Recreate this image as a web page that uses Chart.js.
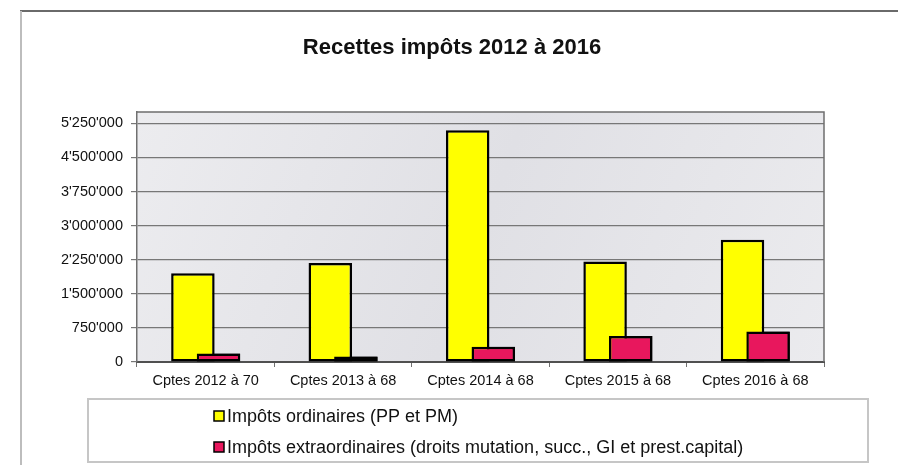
<!DOCTYPE html>
<html><head><meta charset="utf-8">
<script src="https://cdn.jsdelivr.net/npm/chart.js@4.4.0/dist/chart.umd.min.js"></script>
<style>html,body{margin:0;padding:0;background:#fff;overflow:hidden}</style>
</head><body>
<canvas id="c" width="898" height="465"></canvas>
<script>
const titleText = 'Recettes impôts 2012 à 2016';
const categories = ['Cptes 2012 à 70', 'Cptes 2013 à 68', 'Cptes 2014 à 68', 'Cptes 2015 à 68', 'Cptes 2016 à 68'];
const seriesNames = ['Impôts ordinaires (PP et PM)', 'Impôts extraordinaires (droits mutation, succ., GI et prest.capital)'];
const ordinaires = [1950000, 2180000, 5100000, 2210000, 2690000];
const extraordinaires = [185000, 120000, 335000, 570000, 670000];
const yTickValues = [0, 750000, 1500000, 2250000, 3000000, 3750000, 4500000, 5250000];
const yMax = 5500000;

const FONT = '"Liberation Sans", Arial, sans-serif';
const fmt = v => String(v).replace(/\B(?=(\d{3})+(?!\d))/g, "'");

const decor = {
  id: 'decor',
  beforeDraw(chart) {
    const {ctx, chartArea: a} = chart;
    ctx.save();
    const g = ctx.createLinearGradient(a.left, a.top, a.right, a.bottom);
    g.addColorStop(0, '#ececef');
    g.addColorStop(0.5, '#e0e0e5');
    g.addColorStop(1, '#ebebee');
    ctx.fillStyle = g;
    ctx.fillRect(a.left, a.top, a.right - a.left, a.bottom - a.top);
    ctx.restore();
  },
  afterDatasetsDraw(chart) {
    const meta = chart.getDatasetMeta(1);
    if (meta && !meta.hidden) meta.controller.draw();
  },
  afterDraw(chart) {
    const {ctx, chartArea: a} = chart;
    ctx.save();
    // plot border
    ctx.strokeStyle = '#6e6e6e';
    ctx.lineWidth = 1.5;
    ctx.beginPath();
    ctx.moveTo(a.left, a.top); ctx.lineTo(a.right, a.top); ctx.lineTo(a.right, a.bottom);
    ctx.stroke();
    // outer frame
    ctx.strokeStyle = '#6a6a6a';
    ctx.lineWidth = 2;
    ctx.beginPath(); ctx.moveTo(20, 11); ctx.lineTo(898, 11); ctx.stroke();
    ctx.strokeStyle = '#bdbdbd';
    ctx.beginPath(); ctx.moveTo(21, 11); ctx.lineTo(21, 465); ctx.stroke();
    // title
    ctx.fillStyle = '#111';
    ctx.font = 'bold 22px ' + FONT;
    ctx.textAlign = 'center';
    ctx.textBaseline = 'middle';
    ctx.fillText(titleText, 452, 48);
    // legend
    ctx.strokeStyle = '#c6c6c6';
    ctx.lineWidth = 2;
    ctx.strokeRect(88, 399, 780, 63);
    ctx.font = '18px ' + FONT;
    ctx.textAlign = 'left';
    const rows = [416, 447];
    chart.data.datasets.forEach((ds, i) => {
      const y = rows[i];
      ctx.fillStyle = ds.backgroundColor;
      ctx.fillRect(214, y - 5, 10, 10);
      ctx.strokeStyle = '#000';
      ctx.lineWidth = 1.5;
      ctx.strokeRect(214, y - 5, 10, 10);
      ctx.fillStyle = '#111';
      ctx.fillText(ds.label, 227, y + 1);
    });
    ctx.restore();
  }
};

new Chart(document.getElementById('c'), {
  type: 'bar',
  data: {
    labels: categories,
    datasets: [
      { label: seriesNames[0], data: ordinaires, backgroundColor: '#FFFF00', borderColor: '#000', borderWidth: 2.5, borderSkipped: false,
        categoryPercentage: 0.3726, barPercentage: 1.70 },
      { label: seriesNames[1], data: extraordinaires, backgroundColor: '#E8175D', borderColor: '#000', borderWidth: 2.5, borderSkipped: false,
        categoryPercentage: 0.3726, barPercentage: 1.70 }
    ]
  },
  options: {
    responsive: false,
    animation: false,
    devicePixelRatio: 1,
    layout: { padding: { top: 112, right: 74, left: 0, bottom: 0 } },
    plugins: { legend: { display: false }, title: { display: false }, tooltip: { enabled: false } },
    scales: {
      x: {
        afterFit(s) { s.height = 103; },
        grid: { display: true, drawOnChartArea: false, drawTicks: true, tickLength: 5, color: '#707070', offset: true },
        border: { display: true, color: '#505050', width: 2 },
        ticks: { color: '#111', font: { family: FONT, size: 14.5 }, padding: 5, maxRotation: 0, autoSkip: false }
      },
      y: {
        min: 0, max: yMax,
        afterFit(s) { s.width = 137; },
        afterBuildTicks(s) { s.ticks = yTickValues.map(v => ({ value: v })); },
        grid: { color: '#777777', lineWidth: 1.2, tickLength: 6, drawTicks: true },
        border: { display: true, color: '#707070', width: 1.5 },
        ticks: { color: '#111', font: { family: FONT, size: 14.5 }, padding: 8, callback: v => fmt(v) }
      }
    }
  },
  plugins: [decor]
});
</script>
</body></html>
